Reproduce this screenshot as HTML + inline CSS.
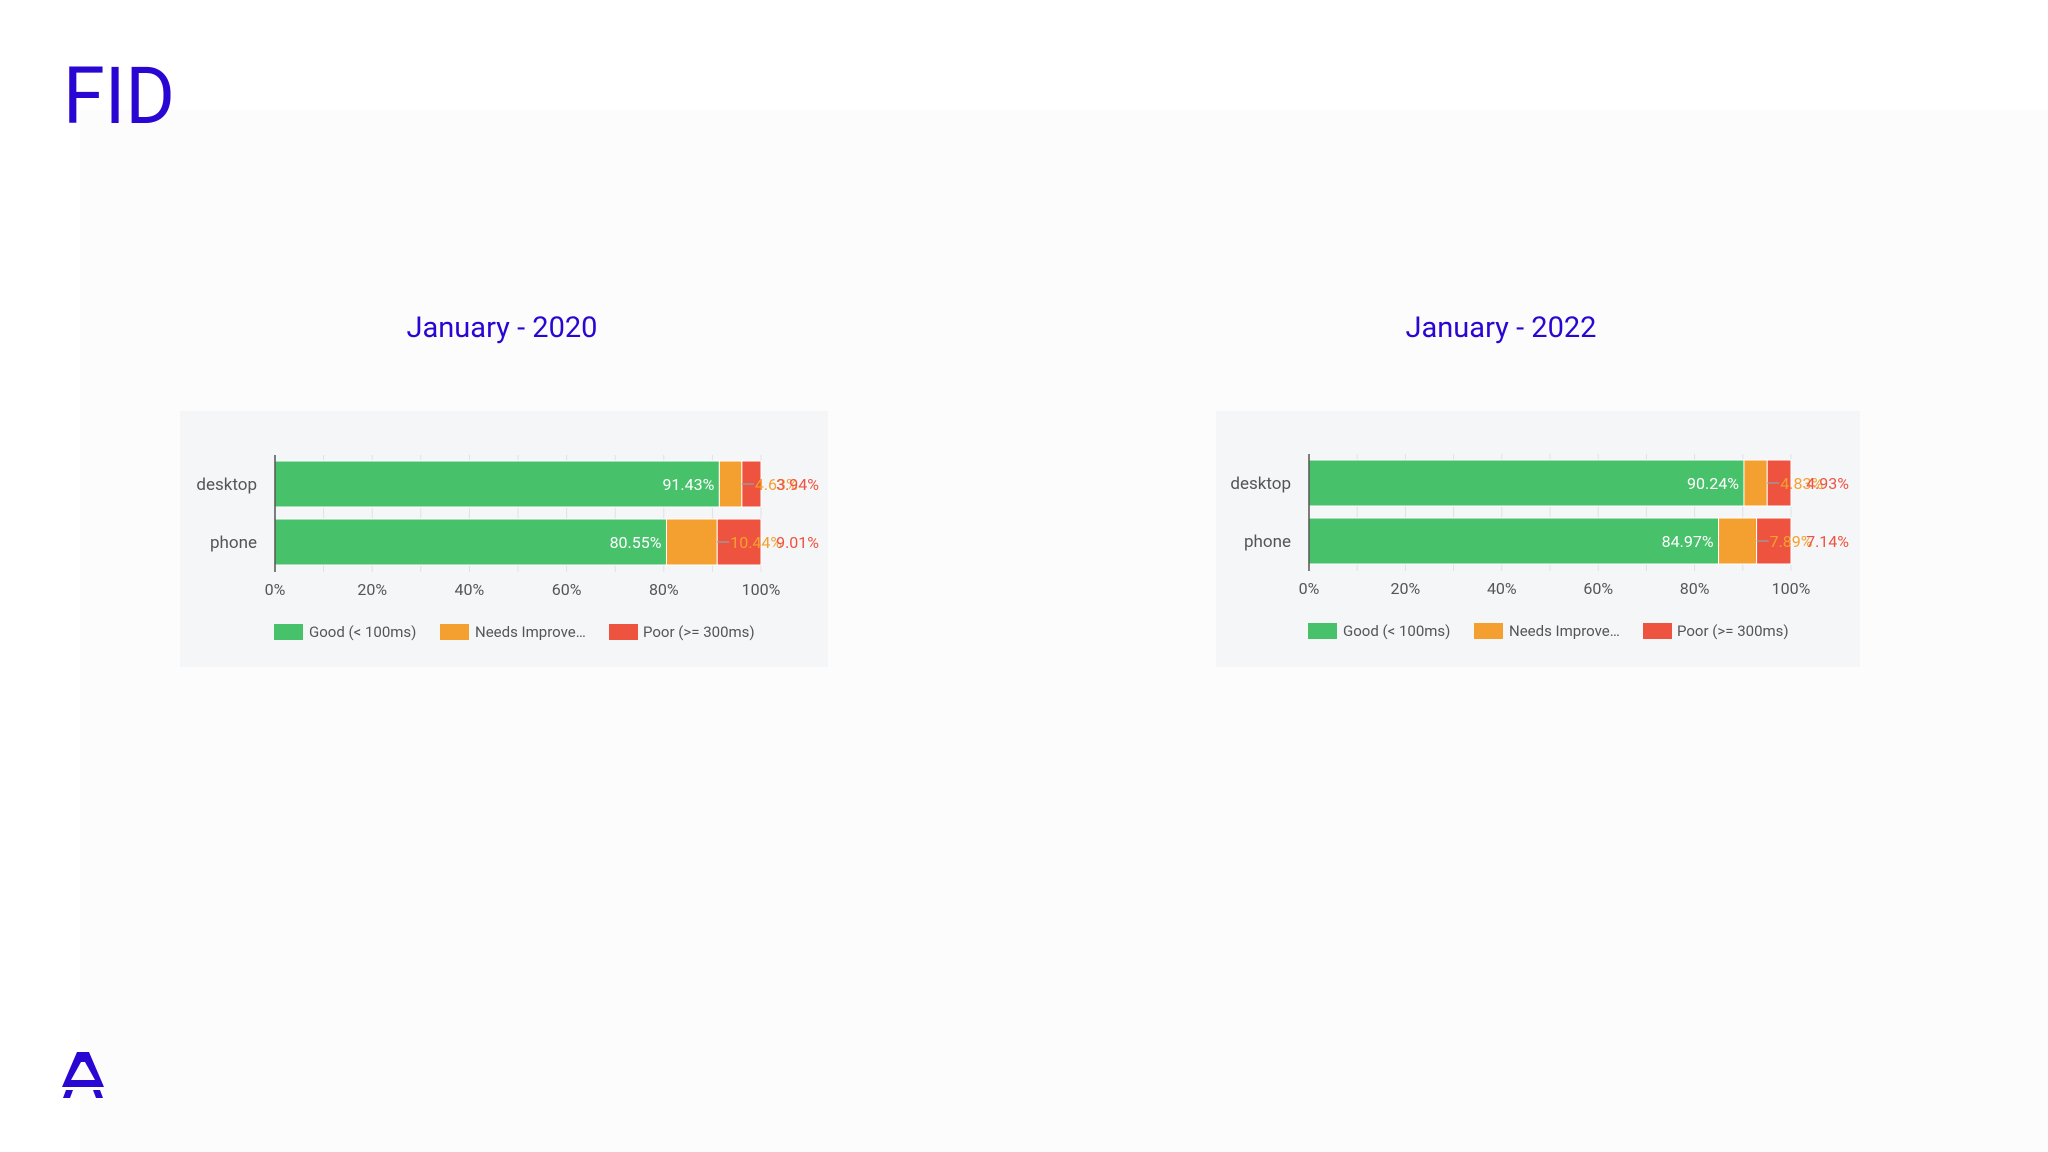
<!DOCTYPE html>
<html><head><meta charset="utf-8">
<style>
html,body{margin:0;padding:0;background:#fff;}
svg{display:block;font-family:"Roboto","Liberation Sans",sans-serif;}
</style></head>
<body>
<svg id="root" width="2048" height="1152" viewBox="0 0 2048 1152" xmlns="http://www.w3.org/2000/svg">
  <rect x="0" y="0" width="2048" height="1152" fill="#ffffff"/>
  <rect x="80" y="110" width="1968" height="1042" fill="#fcfcfc"/>
  <text x="63" y="123" font-size="79" fill="#2a06d2" textLength="112" lengthAdjust="spacingAndGlyphs">FID</text>
  <g>
    <polygon points="77,1052 89,1052 104,1087 62,1087" fill="#2a06d2"/>
    <polygon points="81,1062 85,1062 95,1080 71,1080" fill="#fcfcfc"/>
    <polygon points="66,1090 73,1090 70,1098 63,1098" fill="#2a06d2"/>
    <polygon points="93,1090 100,1090 103,1098 96,1098" fill="#2a06d2"/>
  </g>
  <g id="charts"></g>
</svg>
<script>
const categories = ["desktop", "phone"];
const seriesNames = ["Good (< 100ms)", "Needs Improve…", "Poor (>= 300ms)"];
const colors = ["#48c16b", "#f4a030", "#ee5340"];
const good2020 = [91.43, 80.55];
const needs2020 = [4.63, 10.44];
const poor2020 = [3.94, 9.01];
const good2022 = [90.24, 84.97];
const needs2022 = [4.83, 7.89];
const poor2022 = [4.93, 7.14];
const tickValues = [0, 20, 40, 60, 80, 100];
const tickLabels = ["0%", "20%", "40%", "60%", "80%", "100%"];

const NS = "http://www.w3.org/2000/svg";
const root = document.getElementById("charts");
function mk(tag, attrs, parent) {
  const e = document.createElementNS(NS, tag);
  for (const k in attrs) e.setAttribute(k, attrs[k]);
  parent.appendChild(e);
  return e;
}
function drawChart(cfg, series, key) {
  const g = mk("g", {}, root);
  
  
  const t = mk("text", {x: cfg.titleX, y: 337, "font-size": 29, fill: "#2a06d2", "text-anchor": "middle"}, g);
  t.textContent = cfg.title;
  
  
  const p = mk("rect", {x: cfg.px, y: 411, width: cfg.pw, height: 256, fill: "#f5f6f8"}, g);
  
  
  const x0 = cfg.x0, x1 = cfg.x1;
  const xs = v => x0 + (x1 - x0) * v / 100;
  for (let v = 10; v <= 100; v += 10) {
    const l = mk("line", {x1: xs(v), x2: xs(v), y1: cfg.top, y2: cfg.bottom, stroke: "#dfe1e5", "stroke-width": 1}, g);
    
    
  }
  const bandTops = cfg.barTops, bh = cfg.barH;
  categories.forEach((cat, i) => {
    const y = bandTops[i];
    const lab = mk("text", {x: x0 - 18, y: y + bh / 2 + 6, "font-size": 17, fill: "#555", "text-anchor": "end"}, g);
    lab.textContent = cat;
    
    
    let acc = 0;
    series.forEach((arr, s) => {
      const v = arr[i];
      const r = mk("rect", {x: xs(acc), y: y, width: xs(acc + v) - xs(acc), height: bh, fill: colors[s], stroke: "#fff", "stroke-width": 1}, g);
      
      
      acc += v;
    });
    const gv = series[0][i];
    const tl = mk("text", {x: xs(gv) - 5, y: y + bh / 2 + 6, "font-size": 16, fill: "#fff", "text-anchor": "end"}, g);
    tl.textContent = gv.toFixed(2) + "%";
    
    
    const nv = series[1][i];
    const ln = mk("line", {x1: xs(gv + nv), x2: xs(gv + nv) + 12, y1: y + bh / 2, y2: y + bh / 2, stroke: "#999", "stroke-width": 1.5}, g);
    
    
    const nl = mk("text", {x: xs(gv + nv) + 13, y: y + bh / 2 + 6, "font-size": 16, fill: "#f4a030"}, g);
    nl.textContent = nv.toFixed(2) + "%";
    
    
    const pv = series[2][i];
    const pl = mk("text", {x: x1 + 58, y: y + bh / 2 + 6, "font-size": 16, fill: "#ee5340", "text-anchor": "end"}, g);
    pl.textContent = pv.toFixed(2) + "%";
    
    
  });
  const ax = mk("line", {x1: x0, x2: x0, y1: cfg.top, y2: cfg.bottom, stroke: "#555", "stroke-width": 1.5}, g);
  
  
  tickValues.forEach((v, i) => {
    const tt = mk("text", {x: xs(v), y: cfg.bottom + 23, "font-size": 16, fill: "#555", "text-anchor": "middle"}, g);
    tt.textContent = tickLabels[i];
    
    
  });
  const lx = [x0 - 1, x0 + 165, x0 + 334], tx = [x0 + 34, x0 + 200, x0 + 368];
  seriesNames.forEach((n, s) => {
    const sw = mk("rect", {x: lx[s], y: cfg.legY - 8, width: 29, height: 16, fill: colors[s]}, g);
    
    
    const lt = mk("text", {x: tx[s], y: cfg.legY + 5, "font-size": 15, fill: "#555"}, g);
    lt.textContent = n;
    
    
  });
}
drawChart({title: "January - 2020", titleX: 502, px: 180, pw: 648, x0: 275, x1: 761, top: 455, bottom: 572, barTops: [461, 519], barH: 46, legY: 632}, [good2020, needs2020, poor2020], "2020");
drawChart({title: "January - 2022", titleX: 1501, px: 1216, pw: 644, x0: 1309, x1: 1791, top: 454, bottom: 571, barTops: [460, 518], barH: 46, legY: 631}, [good2022, needs2022, poor2022], "2022");
</script>
</body></html>
